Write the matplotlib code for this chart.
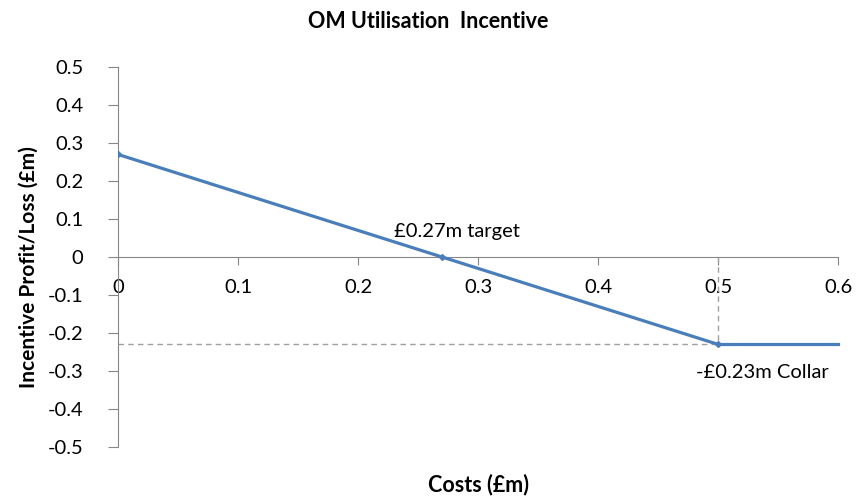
import matplotlib.pyplot as plt

# data
costs = [0, 0.27, 0.5]
profit = [0.27, 0, -0.23]
collar_x = [0.5, 0.6]
collar_y = [-0.23, -0.23]
target = 0.27
collar = -0.23
cap_cost = 0.5
x_ticks = [0, 0.1, 0.2, 0.3, 0.4, 0.5, 0.6]
y_ticks = [0.5, 0.4, 0.3, 0.2, 0.1, 0, -0.1, -0.2, -0.3, -0.4, -0.5]

plt.rcParams['font.family'] = ['Lato', 'DejaVu Sans']

fig = plt.figure(figsize=(8.57, 4.97), dpi=100)
ax = fig.add_axes([0.1377, 0.1006, 0.8403, 0.7645])

blue = '#4A7EBB'
grey = '#A0A0A0'

# dashed guide lines
ax.plot([0, cap_cost], [collar, collar], ls=(0, (4, 3)), color=grey, lw=1)
ax.plot([cap_cost, cap_cost], [0, collar], ls=(0, (4, 3)), color=grey, lw=1)

ax.plot(costs, profit, color=blue, lw=2.3, marker='D', ms=3, zorder=3)
ax.plot(collar_x, collar_y, color=blue, lw=2.3, zorder=3, clip_on=False)

ax.set_xlim(0, 0.6)
ax.set_ylim(-0.5, 0.5)

# excel style axes: y at left, x crossing at zero
for s in ['top', 'right']:
    ax.spines[s].set_visible(False)
ax.spines['bottom'].set_position(('data', 0))
ax.spines['bottom'].set_color('#868686')
ax.spines['left'].set_color('#868686')
ax.spines['bottom'].set_zorder(1)

ax.set_xticks(x_ticks)
ax.set_xticklabels([('%g' % v) for v in x_ticks])
ax.set_yticks(y_ticks)
ax.set_yticklabels([('%g' % v) for v in y_ticks])
ax.tick_params(axis='x', direction='out', length=6, color='#868686',
               pad=10, labelsize=14.5)
ax.tick_params(axis='y', direction='out', length=7, color='#868686',
               pad=18, labelsize=14.5)

ax.text(0.2825, 0.068, '£0.27m target', fontsize=14.5, ha='center', va='center')
ax.text(0.4817, -0.303, '-£0.23m Collar', fontsize=14.5, ha='left', va='center')

fig.text(0.5, 0.956, 'OM Utilisation  Incentive', fontsize=15.5,
         fontweight='bold', ha='center', va='center')
fig.text(0.558, 0.026, 'Costs (£m)', fontsize=15.5, fontweight='bold',
         ha='center', va='center')
fig.text(0.034, 0.463, 'Incentive Profit/Loss (£m)', fontsize=15,
         fontweight='bold', ha='center', va='center', rotation=90)

plt.savefig('out.png')
